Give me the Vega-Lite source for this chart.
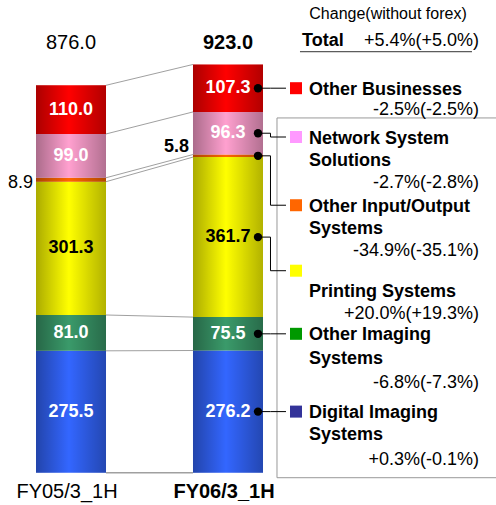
{
  "$schema": "https://vega.github.io/schema/vega-lite/v6.json",
  "width": 496,
  "height": 505,
  "autosize": {"type": "none"},
  "padding": 0,
  "background": "white",
  "config": {
    "view": {"stroke": null},
    "font": "Liberation Sans",
    "text": {"font": "Liberation Sans", "color": "#000000"},
    "axis": {"labelFont": "Liberation Sans"}
  },
  "datasets": {
    "sales": [
      {"period": "FY05/3_1H", "segment": "Digital Imaging Systems", "value": 275.5},
      {"period": "FY05/3_1H", "segment": "Other Imaging Systems", "value": 81.0},
      {"period": "FY05/3_1H", "segment": "Printing Systems", "value": 301.3},
      {"period": "FY05/3_1H", "segment": "Other Input/Output Systems", "value": 8.9},
      {"period": "FY05/3_1H", "segment": "Network System Solutions", "value": 99.0},
      {"period": "FY05/3_1H", "segment": "Other Businesses", "value": 110.0},
      {"period": "FY06/3_1H", "segment": "Digital Imaging Systems", "value": 276.2},
      {"period": "FY06/3_1H", "segment": "Other Imaging Systems", "value": 75.5},
      {"period": "FY06/3_1H", "segment": "Printing Systems", "value": 361.7},
      {"period": "FY06/3_1H", "segment": "Other Input/Output Systems", "value": 5.8},
      {"period": "FY06/3_1H", "segment": "Network System Solutions", "value": 96.3},
      {"period": "FY06/3_1H", "segment": "Other Businesses", "value": 107.3}
    ],
    "segments": [
      {"segment": "Digital Imaging Systems", "rank": 1, "name": "Digital Imaging\nSystems", "change": "+0.3%(-0.1%)"},
      {"segment": "Other Imaging Systems", "rank": 2, "name": "Other Imaging\nSystems", "change": "-6.8%(-7.3%)"},
      {"segment": "Printing Systems", "rank": 3, "name": "Printing Systems", "change": "+20.0%(+19.3%)"},
      {"segment": "Other Input/Output Systems", "rank": 4, "name": "Other Input/Output\nSystems", "change": "-34.9%(-35.1%)"},
      {"segment": "Network System Solutions", "rank": 5, "name": "Network System\nSolutions", "change": "-2.7%(-2.8%)"},
      {"segment": "Other Businesses", "rank": 6, "name": "Other Businesses", "change": "-2.5%(-2.5%)"}
    ],
    "totals": [
      {"period": "FY05/3_1H", "total": 876.0},
      {"period": "FY06/3_1H", "total": 923.0}
    ],
    "notes": [
      {"heading": "Change(without forex)", "label": "Total", "change": "+5.4%(+5.0%)"}
    ]
  },
  "data": {"name": "sales"},
  "transform": [
    {"lookup": "segment", "from": {"data": {"name": "segments"}, "key": "segment", "fields": ["rank"]}}
  ],
  "layer": [
    {
      "mark": {"type": "bar"},
      "encoding": {
        "x": {
          "field": "period", "type": "nominal",
          "scale": {"type": "band", "domain": ["FY05/3_1H", "FY06/3_1H"], "range": [36, 263], "paddingInner": 0.5541, "paddingOuter": 0},
          "axis": null
        },
        "y": {"field": "value", "type": "quantitative", "stack": "zero", "scale": {"domain": [-73, 1068.5], "nice": false, "zero": false}, "axis": null},
        "order": {"field": "rank", "type": "quantitative"},
        "color": {
          "field": "segment", "type": "nominal",
          "scale": {
            "domain": ["Digital Imaging Systems", "Other Imaging Systems", "Printing Systems", "Other Input/Output Systems", "Network System Solutions", "Other Businesses"],
            "range": ["#3366ff", "#3a9a6a", "#ffff00", "#ff6600", "#ffa0cf", "#ff0000"]
          },
          "legend": null
        }
      }
    },
    {
      "mark": {
        "type": "bar",
        "fill": {"gradient": "linear", "x1": 0, "x2": 1, "y1": 0, "y2": 0,
          "stops": [
            {"offset": 0, "color": "rgba(0,0,0,0.33)"},
            {"offset": 0.47, "color": "rgba(0,0,0,0)"},
            {"offset": 1, "color": "rgba(0,0,0,0.30)"}
          ]}
      },
      "encoding": {
        "x": {"field": "period", "type": "nominal", "axis": null},
        "y": {"field": "value", "type": "quantitative", "stack": "zero", "axis": null},
        "order": {"field": "rank", "type": "quantitative"}
      }
    },
    {
      "transform": [
        {"stack": "value", "groupby": ["period"], "sort": [{"field": "rank", "order": "ascending"}], "as": ["v0", "v1"]},
        {"pivot": "period", "value": "v1", "groupby": ["segment"]}
      ],
      "mark": {"type": "rule", "color": "#a0a0a0", "strokeWidth": 1, "xOffset": 35, "x2Offset": -35},
      "encoding": {
        "x": {"datum": "FY05/3_1H", "type": "nominal", "axis": null},
        "x2": {"datum": "FY06/3_1H"},
        "y": {"field": "FY05/3_1H", "type": "quantitative", "axis": null},
        "y2": {"field": "FY06/3_1H"}
      }
    },
    {
      "data": {"name": "notes"},
      "mark": {"type": "rule", "color": "#a0a0a0", "strokeWidth": 1.5, "xOffset": 35, "x2Offset": -35},
      "encoding": {
        "x": {"datum": "FY05/3_1H", "type": "nominal", "axis": null},
        "x2": {"datum": "FY06/3_1H"},
        "y": {"datum": 0, "type": "quantitative", "axis": null}
      }
    },
    {
      "data": {"name": "totals"},
      "transform": [{"filter": "datum.period === 'FY05/3_1H'"}],
      "layer": [
        {
          "mark": {"type": "text", "fontSize": 20, "baseline": "middle", "align": "center"},
          "encoding": {
            "x": {"field": "period", "type": "nominal", "axis": null},
            "y": {"datum": 970.9, "type": "quantitative", "axis": null},
            "text": {"field": "total", "type": "quantitative", "format": ".1f"}
          }
        },
        {
          "mark": {"type": "text", "fontSize": 20, "baseline": "middle", "align": "center", "dx": -4},
          "encoding": {
            "x": {"field": "period", "type": "nominal", "axis": null},
            "y": {"datum": -44.1, "type": "quantitative", "axis": null},
            "text": {"field": "period"}
          }
        }
      ]
    },
    {
      "data": {"name": "totals"},
      "transform": [{"filter": "datum.period === 'FY06/3_1H'"}],
      "layer": [
        {
          "mark": {"type": "text", "fontSize": 20, "fontWeight": "bold", "baseline": "middle", "align": "center"},
          "encoding": {
            "x": {"field": "period", "type": "nominal", "axis": null},
            "y": {"datum": 970.9, "type": "quantitative", "axis": null},
            "text": {"field": "total", "type": "quantitative", "format": ".1f"}
          }
        },
        {
          "mark": {"type": "text", "fontSize": 20, "fontWeight": "bold", "baseline": "middle", "align": "center", "dx": -4},
          "encoding": {
            "x": {"field": "period", "type": "nominal", "axis": null},
            "y": {"datum": -44.1, "type": "quantitative", "axis": null},
            "text": {"field": "period"}
          }
        }
      ]
    },
    {
      "data": {"name": "notes"},
      "mark": {"type": "text", "fontSize": 16, "baseline": "middle", "align": "center", "dx": 160},
      "encoding": {
        "x": {"datum": "FY06/3_1H", "type": "nominal", "axis": null},
        "y": {"datum": 1035.9, "type": "quantitative", "axis": null},
        "text": {"field": "heading"}
      }
    },
    {
      "data": {"name": "notes"},
      "mark": {"type": "text", "fontSize": 18, "fontWeight": "bold", "baseline": "middle", "align": "left", "dx": 74},
      "encoding": {
        "x": {"datum": "FY06/3_1H", "type": "nominal", "axis": null},
        "y": {"datum": 974.9, "type": "quantitative", "axis": null},
        "text": {"field": "label"}
      }
    },
    {
      "data": {"name": "notes"},
      "mark": {"type": "text", "fontSize": 18, "baseline": "middle", "align": "right", "dx": 251},
      "encoding": {
        "x": {"datum": "FY06/3_1H", "type": "nominal", "axis": null},
        "y": {"datum": 974.9, "type": "quantitative", "axis": null},
        "text": {"field": "change"}
      }
    },
    {
      "data": {"name": "notes"},
      "mark": {"type": "rule", "color": "#333333", "strokeWidth": 1, "xOffset": 72, "x2Offset": 244},
      "encoding": {
        "x": {"datum": "FY06/3_1H", "type": "nominal", "axis": null},
        "x2": {"datum": "FY06/3_1H"},
        "y": {"datum": 951.6, "type": "quantitative", "axis": null}
      }
    },
    {
      "data": {"name": "notes"},
      "mark": {"type": "rule", "color": "#999999", "strokeWidth": 1, "xOffset": 49, "x2Offset": 272},
      "encoding": {
        "x": {"datum": "FY06/3_1H", "type": "nominal", "axis": null},
        "x2": {"datum": "FY06/3_1H"},
        "y": {"datum": 801.9, "type": "quantitative", "axis": null}
      }
    },
    {
      "data": {"name": "notes"},
      "mark": {"type": "rule", "color": "#999999", "strokeWidth": 1, "xOffset": 49, "x2Offset": 272},
      "encoding": {
        "x": {"datum": "FY06/3_1H", "type": "nominal", "axis": null},
        "x2": {"datum": "FY06/3_1H"},
        "y": {"datum": -11.3, "type": "quantitative", "axis": null}
      }
    },
    {
      "data": {"name": "notes"},
      "mark": {"type": "rule", "color": "#999999", "strokeWidth": 1, "xOffset": 49},
      "encoding": {
        "x": {"datum": "FY06/3_1H", "type": "nominal", "axis": null},
        "y": {"datum": 801.9, "type": "quantitative", "axis": null},
        "y2": {"datum": -11.3}
      }
    },
    {
      "transform": [
        {"stack": "value", "groupby": ["period"], "sort": [{"field": "rank", "order": "ascending"}], "as": ["v0", "v1"]},
        {"fold": ["v0", "v1"], "as": ["edge", "pos"]},
        {"aggregate": [{"op": "mean", "field": "pos", "as": "mid"}], "groupby": ["period", "segment", "value"]},
        {"lookup": "segment", "from": {"data": {"name": "segments"}, "key": "segment", "fields": ["name", "change"]}}
      ],
      "encoding": {
        "x": {"field": "period", "type": "nominal", "axis": null},
        "y": {"field": "mid", "type": "quantitative", "axis": null}
      },
      "layer": [
        {
          "transform": [{"filter": "datum.segment !== 'Other Input/Output Systems'"}],
          "mark": {"type": "text", "fontSize": 18, "fontWeight": "bold", "baseline": "middle", "align": "center"},
          "encoding": {
            "text": {"field": "value", "type": "quantitative", "format": ".1f"},
            "fill": {"condition": {"test": "datum.segment === 'Printing Systems'", "value": "#000000"}, "value": "#ffffff"}
          }
        },
        {
          "transform": [{"filter": "datum.segment === 'Other Input/Output Systems' && datum.period === 'FY05/3_1H'"}],
          "mark": {"type": "text", "fontSize": 18, "baseline": "middle", "align": "right", "dx": -38, "dy": 3},
          "encoding": {"text": {"field": "value", "type": "quantitative", "format": ".1f"}}
        },
        {
          "transform": [{"filter": "datum.segment === 'Other Input/Output Systems' && datum.period === 'FY06/3_1H'"}],
          "mark": {"type": "text", "fontSize": 18, "fontWeight": "bold", "baseline": "middle", "align": "right", "dx": -39, "dy": -9},
          "encoding": {"text": {"field": "value", "type": "quantitative", "format": ".1f"}}
        },
        {
          "transform": [{"filter": "datum.period === 'FY06/3_1H'"}],
          "mark": {"type": "rule", "color": "#000000", "strokeWidth": 1, "xOffset": 30, "x2Offset": 42.5},
          "encoding": {"x2": {"field": "period"}}
        },
        {
          "transform": [{"filter": "datum.period === 'FY06/3_1H'"}],
          "mark": {"type": "circle", "size": 70, "opacity": 1, "color": "#000000", "xOffset": 30}
        },
        {
          "transform": [{"filter": "datum.period === 'FY06/3_1H' && datum.segment === 'Other Businesses'"}],
          "layer": [
            {"mark": {"type": "rule", "color": "#000000", "xOffset": 42.5, "x2Offset": 58}, "encoding": {"x2": {"field": "period"}}},
            {"mark": {"type": "square", "size": 144, "opacity": 1, "xOffset": 68},
             "encoding": {"fill": {"field": "segment", "type": "nominal", "scale": {"domain": ["Digital Imaging Systems", "Other Imaging Systems", "Printing Systems", "Other Input/Output Systems", "Network System Solutions", "Other Businesses"], "range": ["#333399", "#009900", "#ffff00", "#ff6600", "#ff99ff", "#ff0000"]}, "legend": null}}},
            {"mark": {"type": "text", "align": "left", "baseline": "top", "dx": 81, "dy": -7.5, "fontSize": 18, "fontWeight": "bold", "lineBreak": "\n", "lineHeight": 22}, "encoding": {"text": {"field": "name"}}},
            {"mark": {"type": "text", "align": "right", "baseline": "top", "dx": 251, "dy": 12.5, "fontSize": 18}, "encoding": {"text": {"field": "change"}}}
          ]
        },
        {
          "transform": [{"filter": "datum.period === 'FY06/3_1H' && datum.segment === 'Network System Solutions'"}],
          "layer": [
            {"mark": {"type": "rule", "color": "#000000", "xOffset": 42.5}, "encoding": {"y2": {"datum": 758.8}}},
            {"mark": {"type": "rule", "color": "#000000", "xOffset": 42.5, "x2Offset": 58}, "encoding": {"x2": {"field": "period"}, "y": {"datum": 758.8, "type": "quantitative", "axis": null}}},
            {"mark": {"type": "square", "size": 144, "opacity": 1, "xOffset": 68},
             "encoding": {"y": {"datum": 758.8, "type": "quantitative", "axis": null}, "fill": {"field": "segment", "type": "nominal", "scale": {"domain": ["Digital Imaging Systems", "Other Imaging Systems", "Printing Systems", "Other Input/Output Systems", "Network System Solutions", "Other Businesses"], "range": ["#333399", "#009900", "#ffff00", "#ff6600", "#ff99ff", "#ff0000"]}, "legend": null}}},
            {"mark": {"type": "text", "align": "left", "baseline": "top", "dx": 81, "dy": -7.5, "fontSize": 18, "fontWeight": "bold", "lineBreak": "\n", "lineHeight": 22}, "encoding": {"y": {"datum": 758.8, "type": "quantitative", "axis": null}, "text": {"field": "name"}}},
            {"mark": {"type": "text", "align": "right", "baseline": "top", "dx": 251, "dy": 36.5, "fontSize": 18}, "encoding": {"y": {"datum": 758.8, "type": "quantitative", "axis": null}, "text": {"field": "change"}}}
          ]
        },
        {
          "transform": [{"filter": "datum.period === 'FY06/3_1H' && datum.segment === 'Other Input/Output Systems'"}],
          "layer": [
            {"mark": {"type": "rule", "color": "#000000", "xOffset": 42.5}, "encoding": {"y2": {"datum": 604.6}}},
            {"mark": {"type": "rule", "color": "#000000", "xOffset": 42.5, "x2Offset": 58}, "encoding": {"x2": {"field": "period"}, "y": {"datum": 604.6, "type": "quantitative", "axis": null}}},
            {"mark": {"type": "square", "size": 144, "opacity": 1, "xOffset": 68},
             "encoding": {"y": {"datum": 604.6, "type": "quantitative", "axis": null}, "fill": {"field": "segment", "type": "nominal", "scale": {"domain": ["Digital Imaging Systems", "Other Imaging Systems", "Printing Systems", "Other Input/Output Systems", "Network System Solutions", "Other Businesses"], "range": ["#333399", "#009900", "#ffff00", "#ff6600", "#ff99ff", "#ff0000"]}, "legend": null}}},
            {"mark": {"type": "text", "align": "left", "baseline": "top", "dx": 81, "dy": -7.5, "fontSize": 18, "fontWeight": "bold", "lineBreak": "\n", "lineHeight": 22}, "encoding": {"y": {"datum": 604.6, "type": "quantitative", "axis": null}, "text": {"field": "name"}}},
            {"mark": {"type": "text", "align": "right", "baseline": "top", "dx": 251, "dy": 36.5, "fontSize": 18}, "encoding": {"y": {"datum": 604.6, "type": "quantitative", "axis": null}, "text": {"field": "change"}}}
          ]
        },
        {
          "transform": [{"filter": "datum.period === 'FY06/3_1H' && datum.segment === 'Printing Systems'"}],
          "layer": [
            {"mark": {"type": "rule", "color": "#000000", "xOffset": 42.5}, "encoding": {"y2": {"datum": 456.6}}},
            {"mark": {"type": "rule", "color": "#000000", "xOffset": 42.5, "x2Offset": 58}, "encoding": {"x2": {"field": "period"}, "y": {"datum": 456.6, "type": "quantitative", "axis": null}}},
            {"mark": {"type": "square", "size": 144, "opacity": 1, "xOffset": 68},
             "encoding": {"y": {"datum": 456.6, "type": "quantitative", "axis": null}, "fill": {"field": "segment", "type": "nominal", "scale": {"domain": ["Digital Imaging Systems", "Other Imaging Systems", "Printing Systems", "Other Input/Output Systems", "Network System Solutions", "Other Businesses"], "range": ["#333399", "#009900", "#ffff00", "#ff6600", "#ff99ff", "#ff0000"]}, "legend": null}}},
            {"mark": {"type": "text", "align": "left", "baseline": "top", "dx": 81, "dy": 12, "fontSize": 18, "fontWeight": "bold", "lineBreak": "\n", "lineHeight": 22}, "encoding": {"y": {"datum": 456.6, "type": "quantitative", "axis": null}, "text": {"field": "name"}}},
            {"mark": {"type": "text", "align": "right", "baseline": "top", "dx": 251, "dy": 34.5, "fontSize": 18}, "encoding": {"y": {"datum": 456.6, "type": "quantitative", "axis": null}, "text": {"field": "change"}}}
          ]
        },
        {
          "transform": [{"filter": "datum.period === 'FY06/3_1H' && datum.segment === 'Other Imaging Systems'"}],
          "layer": [
            {"mark": {"type": "rule", "color": "#000000", "xOffset": 42.5, "x2Offset": 58}, "encoding": {"x2": {"field": "period"}}},
            {"mark": {"type": "square", "size": 144, "opacity": 1, "xOffset": 68},
             "encoding": {"fill": {"field": "segment", "type": "nominal", "scale": {"domain": ["Digital Imaging Systems", "Other Imaging Systems", "Printing Systems", "Other Input/Output Systems", "Network System Solutions", "Other Businesses"], "range": ["#333399", "#009900", "#ffff00", "#ff6600", "#ff99ff", "#ff0000"]}, "legend": null}}},
            {"mark": {"type": "text", "align": "left", "baseline": "top", "dx": 81, "dy": -7.5, "fontSize": 18, "fontWeight": "bold", "lineBreak": "\n", "lineHeight": 24}, "encoding": {"text": {"field": "name"}}},
            {"mark": {"type": "text", "align": "right", "baseline": "top", "dx": 251, "dy": 40.5, "fontSize": 18}, "encoding": {"text": {"field": "change"}}}
          ]
        },
        {
          "transform": [{"filter": "datum.period === 'FY06/3_1H' && datum.segment === 'Digital Imaging Systems'"}],
          "layer": [
            {"mark": {"type": "rule", "color": "#000000", "xOffset": 42.5, "x2Offset": 58}, "encoding": {"x2": {"field": "period"}}},
            {"mark": {"type": "square", "size": 144, "opacity": 1, "xOffset": 68},
             "encoding": {"fill": {"field": "segment", "type": "nominal", "scale": {"domain": ["Digital Imaging Systems", "Other Imaging Systems", "Printing Systems", "Other Input/Output Systems", "Network System Solutions", "Other Businesses"], "range": ["#333399", "#009900", "#ffff00", "#ff6600", "#ff99ff", "#ff0000"]}, "legend": null}}},
            {"mark": {"type": "text", "align": "left", "baseline": "top", "dx": 81, "dy": -7.5, "fontSize": 18, "fontWeight": "bold", "lineBreak": "\n", "lineHeight": 22}, "encoding": {"text": {"field": "name"}}},
            {"mark": {"type": "text", "align": "right", "baseline": "top", "dx": 251, "dy": 39.5, "fontSize": 18}, "encoding": {"text": {"field": "change"}}}
          ]
        }
      ]
    }
  ]
}
